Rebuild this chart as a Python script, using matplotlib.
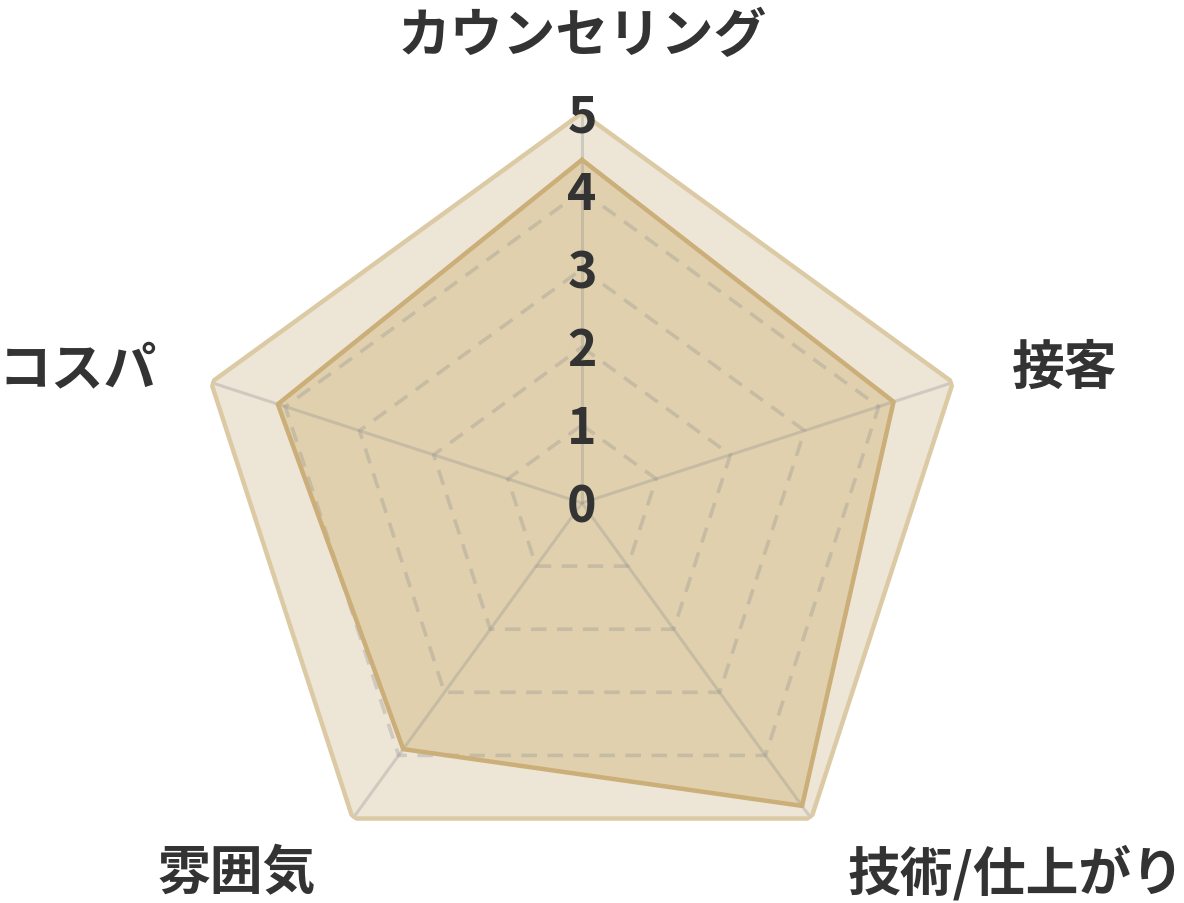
import numpy as np
import matplotlib
matplotlib.use("Agg")
import matplotlib.pyplot as plt
from matplotlib.transforms import offset_copy

plt.rcParams['font.family'] = ['Noto Sans CJK JP', 'DejaVu Sans']

categories = ["カウンセリング", "接客", "技術/仕上がり", "雰囲気", "コスパ"]
scores = [4.4, 4.2, 4.8, 3.9, 4.1]
max_score = [5, 5, 5, 5, 5]
tick_values = [0, 1, 2, 3, 4, 5]

outer_fill = "#ede5d6"
outer_edge = "#dccaa4"
data_fill = "#e0d0ae"
data_edge = "#cbae78"
grid_col = (0.55, 0.55, 0.55, 0.30)
text_col = "#333333"

n = len(categories)
angles = np.arange(n) * 2 * np.pi / n
closed = np.append(angles, angles[0])

def close(v):
    return list(v) + [v[0]]

fig = plt.figure(figsize=(11.84, 9.04), dpi=100)
ax = fig.add_axes([192 / 1184, 10 / 904, 780 / 1184, 780 / 904], projection="polar")
ax.set_theta_offset(np.pi / 2)
ax.set_theta_direction(-1)
ax.set_ylim(0, 5)
ax.axis("off")

# full-score pentagon as background
ax.fill(closed, close(max_score), color=outer_fill, zorder=1)
ax.plot(closed, close(max_score), color=outer_edge, lw=3.2, zorder=5)

# the scores
ax.fill(closed, close(scores), color=data_fill, zorder=2)

# grid: spokes and dashed rings
for a in angles:
    ax.plot([a, a], [0, 5], color=grid_col, lw=2.2, zorder=3, solid_capstyle="butt")
for lvl in tick_values[1:-1]:
    ax.plot(closed, [lvl] * (n + 1), color=grid_col, lw=2.6, ls=(0, (4.3, 2.9)), zorder=3)

ax.plot(closed, close(scores), color=data_edge, lw=3.2, zorder=4)

# scale numbers up the top spoke
down = offset_copy(ax.transData, fig=fig, x=0, y=-4, units="dots")
for t in tick_values:
    ax.text(0, t, str(t), ha="center", va="center", fontsize=36,
            fontweight="bold", color=text_col, zorder=6, transform=down)

# category labels
label_r = [6.05, 5.8, 5.8, 5.8, 5.74]
label_ha = ["center", "left", "left", "right", "right"]
for a, r, ha, name in zip(angles, label_r, label_ha, categories):
    ax.text(a, r, name, ha=ha, va="center", fontsize=38, fontweight="bold",
            color=text_col, clip_on=False, transform=down)

fig.savefig("out.png", dpi=100)
